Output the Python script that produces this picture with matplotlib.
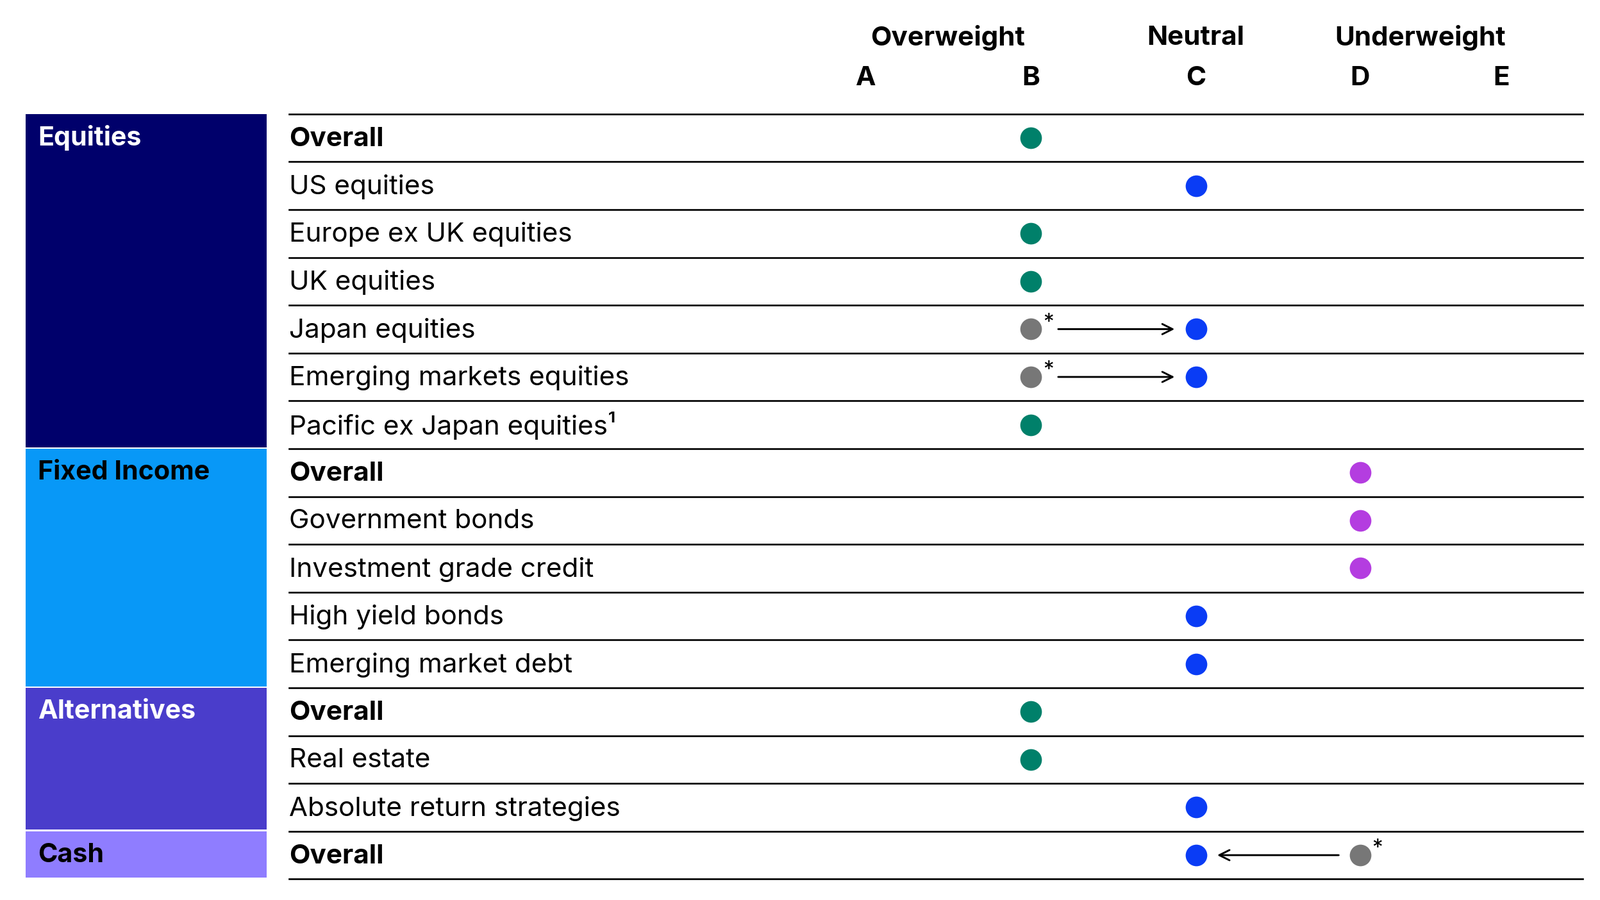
import matplotlib
matplotlib.use("Agg")
import matplotlib.pyplot as plt
from matplotlib.patches import Rectangle

plt.rcParams["font.family"] = "Inter"

columns = ["A", "B", "C", "D", "E"]
col_x = {"A": 844, "B": 1005, "C": 1166, "D": 1326, "E": 1464}
groups = ["Overweight", "Neutral", "Underweight"]
group_x = [924, 1166, 1385]

categories = ["Equities", "Fixed Income", "Alternatives", "Cash"]
cat_sizes = [7, 5, 3, 1]
cat_colors = ["#00006B", "#0898F7", "#4A3DCB", "#8F7DFF"]
cat_text = ["white", "black", "white", "black"]

rows = ["Overall", "US equities", "Europe ex UK equities", "UK equities", "Japan equities",
        "Emerging markets equities", "Pacific ex Japan equities¹",
        "Overall", "Government bonds", "Investment grade credit", "High yield bonds",
        "Emerging market debt",
        "Overall", "Real estate", "Absolute return strategies",
        "Overall"]
bold_rows = [0, 7, 12, 15]
current = ["B", "C", "B", "B", "C", "C", "B", "D", "D", "D", "C", "C", "B", "B", "C", "C"]
previous = [None, None, None, None, "B", "B", None, None, None, None, None, None, None, None, None, "D"]

rating_color = {"B": "#00806A", "C": "#0A3CF5", "D": "#B43DE0"}
gray = "#777777"

fig = plt.figure(figsize=(15.6, 8.775), dpi=160)
ax = fig.add_axes([0, 0, 1, 1])
ax.set_xlim(0, 1560)
ax.set_ylim(877, 0)
ax.axis("off")

top = 111
rh = 46.6
for g, x in zip(groups, group_x):
    ax.text(x, 37, g, ha="center", va="center", fontsize=19, fontweight="bold")
for c in columns:
    ax.text(col_x[c], 76, c, ha="center", va="center", fontsize=19, fontweight="bold")

start = 0
for cat, n, col, tc in zip(categories, cat_sizes, cat_colors, cat_text):
    y0 = top + start * rh
    ax.add_patch(Rectangle((25, y0), 235, n * rh - 1.5, color=col, lw=0))
    ax.text(37, y0 + 23, cat, ha="left", va="center", fontsize=18.5, fontweight="bold", color=tc)
    start += n

ax.plot([282, 1543], [top, top], color="black", lw=1.2)
for i, name in enumerate(rows):
    yc = top + (i + 0.5) * rh
    ax.plot([282, 1543], [top + (i + 1) * rh] * 2, color="black", lw=1.2)
    ax.text(282, yc + 1, name, ha="left", va="center", fontsize=19,
            fontweight="bold" if i in bold_rows else "normal")
    cx = col_x[current[i]]
    ax.scatter([cx], [yc], s=230, color=rating_color[current[i]], zorder=3, lw=0)
    if previous[i] is not None:
        px = col_x[previous[i]]
        ax.scatter([px], [yc], s=230, color=gray, zorder=3, lw=0)
        ax.text(px + 17, yc - 6, "*", ha="center", va="center", fontsize=15)
        if px < cx:
            x1, x2 = px + 24, cx - 18
        else:
            x1, x2 = px - 18, cx + 18
        ax.annotate("", xy=(x2, yc), xytext=(x1, yc),
                    arrowprops=dict(arrowstyle="->", lw=1.3, color="black",
                                    mutation_scale=18))

fig.savefig("out.png", dpi=160)
